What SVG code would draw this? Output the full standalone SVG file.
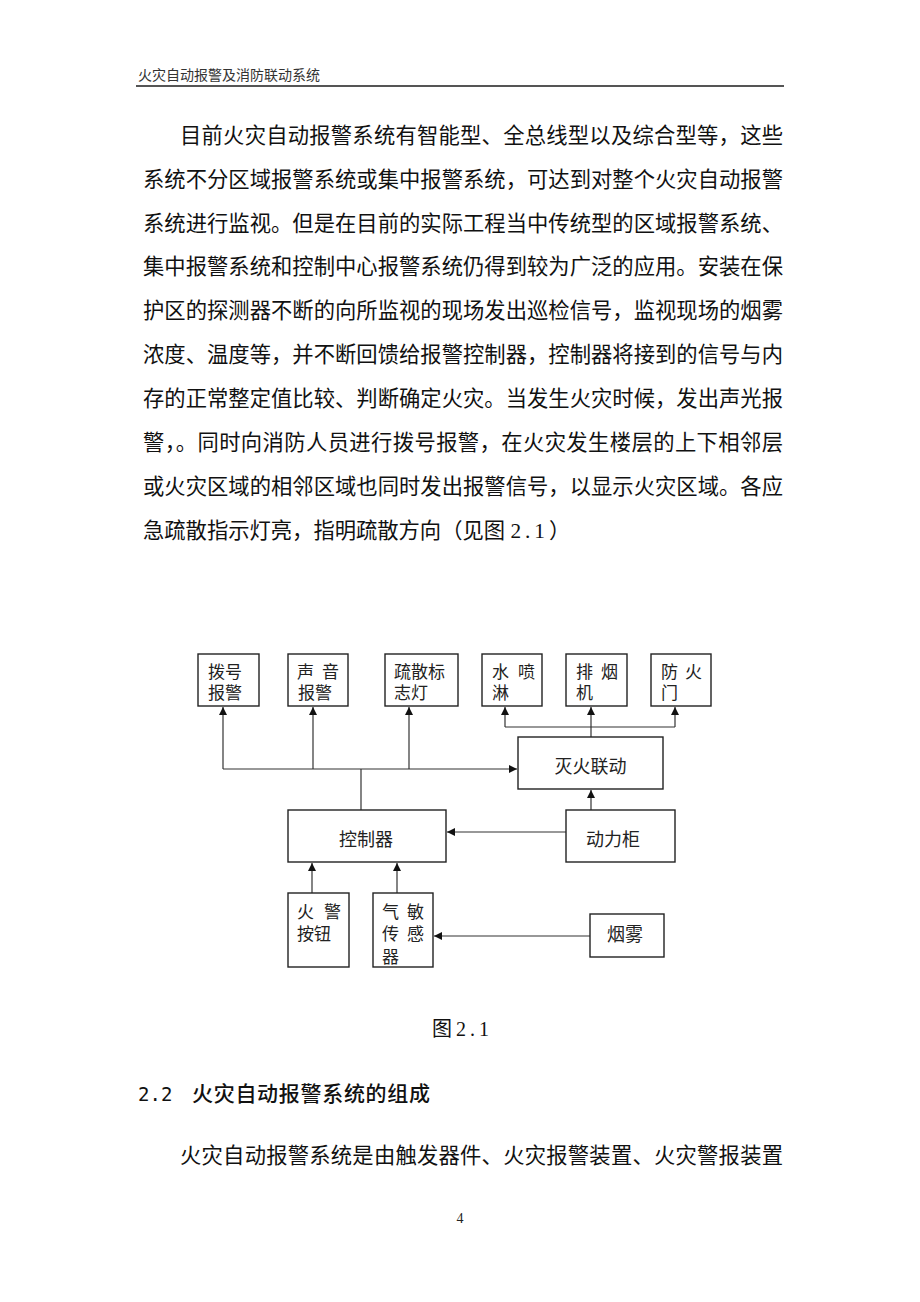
<svg xmlns="http://www.w3.org/2000/svg" width="920" height="1302" viewBox="0 0 920 1302">
<defs>
<style>
.body{font-family:"Liberation Serif","Noto Sans CJK SC",serif;font-size:21.3px;fill:#111}
.hdr{font-family:"Liberation Serif","Noto Sans CJK SC",serif;font-size:14px;fill:#333}
.box{fill:#fff;stroke:#222;stroke-width:1.4}
.lbl{font-family:"Liberation Sans","Noto Sans CJK SC",sans-serif;font-size:17px;fill:#222}
.lbl2{font-family:"Liberation Sans","Noto Sans CJK SC",sans-serif;font-size:18px;fill:#222}
.con{fill:none;stroke:#333;stroke-width:1.2}
</style>
<marker id="ah" viewBox="0 0 10 10" refX="10" refY="5" markerWidth="8" markerHeight="8" markerUnits="userSpaceOnUse" orient="auto">
<path d="M0,0 L10,5 L0,10 z" fill="#111"/>
</marker>
</defs>
<rect width="920" height="1302" fill="#fff"/>

<g id="header">
<text class="hdr" x="138" y="80">火灾自动报警及消防联动系统</text>
<line x1="136" y1="86" x2="784" y2="86" stroke="#555" stroke-width="2"/>
</g>

<g id="paragraph1">
<text class="body" x="180" y="143" textLength="603" lengthAdjust="spacing">目前火灾自动报警系统有智能型、全总线型以及综合型等，这些</text>
<text class="body" x="143" y="187" textLength="640" lengthAdjust="spacing">系统不分区域报警系统或集中报警系统，可达到对整个火灾自动报警</text>
<text class="body" x="143" y="231" textLength="640" lengthAdjust="spacing">系统进行监视。但是在目前的实际工程当中传统型的区域报警系统、</text>
<text class="body" x="143" y="274" textLength="640" lengthAdjust="spacing">集中报警系统和控制中心报警系统仍得到较为广泛的应用。安装在保</text>
<text class="body" x="143" y="318" textLength="640" lengthAdjust="spacing">护区的探测器不断的向所监视的现场发出巡检信号，监视现场的烟雾</text>
<text class="body" x="143" y="362" textLength="640" lengthAdjust="spacing">浓度、温度等，并不断回馈给报警控制器，控制器将接到的信号与内</text>
<text class="body" x="143" y="406" textLength="640" lengthAdjust="spacing">存的正常整定值比较、判断确定火灾。当发生火灾时候，发出声光报</text>
<text class="body" x="143" y="450" textLength="640" lengthAdjust="spacing">警，。同时向消防人员进行拨号报警，在火灾发生楼层的上下相邻层</text>
<text class="body" x="143" y="494" textLength="640" lengthAdjust="spacing">或火灾区域的相邻区域也同时发出报警信号，以显示火灾区域。各应</text>
<text class="body" x="143" y="538">急疏散指示灯亮，指明疏散方向（见图 <tspan letter-spacing="4">2.1</tspan>）</text>
</g>

<g id="connectors">
<line class="con" x1="223" y1="769" x2="223" y2="707" marker-end="url(#ah)"/>
<line class="con" x1="313" y1="769" x2="313" y2="707" marker-end="url(#ah)"/>
<line class="con" x1="409" y1="769" x2="409" y2="707" marker-end="url(#ah)"/>
<line class="con" x1="223" y1="769" x2="517" y2="769" marker-end="url(#ah)"/>
<line class="con" x1="361" y1="810" x2="361" y2="769"/>
<line class="con" x1="591" y1="737" x2="591" y2="707" marker-end="url(#ah)"/>
<line class="con" x1="505" y1="727" x2="675" y2="727"/>
<line class="con" x1="505" y1="727" x2="505" y2="707" marker-end="url(#ah)"/>
<line class="con" x1="675" y1="727" x2="675" y2="707" marker-end="url(#ah)"/>
<line class="con" x1="591" y1="810" x2="591" y2="790" marker-end="url(#ah)"/>
<line class="con" x1="566" y1="832" x2="447" y2="832" marker-end="url(#ah)"/>
<line class="con" x1="312" y1="893" x2="312" y2="863" marker-end="url(#ah)"/>
<line class="con" x1="397" y1="893" x2="397" y2="863" marker-end="url(#ah)"/>
<line class="con" x1="590" y1="936" x2="434" y2="936" marker-end="url(#ah)"/>
</g>

<g id="node-bohao">
<rect class="box" x="198" y="654" width="61" height="52"/>
<text class="lbl" x="208" y="678">拨号</text>
<text class="lbl" x="208" y="699">报警</text>
</g>
<g id="node-shengyin">
<rect class="box" x="288" y="654" width="60" height="52"/>
<text class="lbl" x="297" y="678">声</text>
<text class="lbl" x="322" y="678">音</text>
<text class="lbl" x="298" y="699">报警</text>
</g>
<g id="node-shusan">
<rect class="box" x="385" y="654" width="73" height="52"/>
<text class="lbl" x="394" y="678">疏散标</text>
<text class="lbl" x="394" y="699">志灯</text>
</g>
<g id="node-shuipenlin">
<rect class="box" x="482" y="654" width="60" height="52"/>
<text class="lbl" x="492" y="678">水</text>
<text class="lbl" x="518" y="678">喷</text>
<text class="lbl" x="492" y="699">淋</text>
</g>
<g id="node-paiyanji">
<rect class="box" x="566" y="654" width="61" height="52"/>
<text class="lbl" x="576" y="678">排</text>
<text class="lbl" x="601" y="678">烟</text>
<text class="lbl" x="576" y="699">机</text>
</g>
<g id="node-fanghuomen">
<rect class="box" x="651" y="654" width="60" height="52"/>
<text class="lbl" x="661" y="678">防</text>
<text class="lbl" x="685" y="678">火</text>
<text class="lbl" x="661" y="699">门</text>
</g>
<g id="node-miehuo">
<rect class="box" x="518" y="737" width="145" height="52"/>
<text class="lbl2" x="590.5" y="773" text-anchor="middle">灭火联动</text>
</g>
<g id="node-kongzhiqi">
<rect class="box" x="288" y="810" width="158" height="52"/>
<text class="lbl2" x="366" y="846" text-anchor="middle">控制器</text>
</g>
<g id="node-dongligui">
<rect class="box" x="566" y="810" width="109" height="52"/>
<text class="lbl2" x="613" y="846" text-anchor="middle">动力柜</text>
</g>
<g id="node-huojing">
<rect class="box" x="288" y="893" width="61" height="74"/>
<text class="lbl" x="297" y="918">火</text>
<text class="lbl" x="324" y="918">警</text>
<text class="lbl" x="297" y="940">按钮</text>
</g>
<g id="node-qimin">
<rect class="box" x="373" y="893" width="60" height="74"/>
<text class="lbl" x="382" y="918">气</text>
<text class="lbl" x="407" y="918">敏</text>
<text class="lbl" x="382" y="940">传</text>
<text class="lbl" x="407" y="940">感</text>
<text class="lbl" x="382" y="963">器</text>
</g>
<g id="node-yanwu">
<rect class="box" x="590" y="914" width="74" height="43"/>
<text class="lbl2" x="625" y="941" text-anchor="middle">烟雾</text>
</g>

<g id="caption">
<text class="body" x="432" y="1036" style="font-size:20px">图<tspan dx="4" letter-spacing="4">2.1</tspan></text>
</g>

<g id="section">
<text x="138" y="1101" style="font-family:'DejaVu Sans Mono','Liberation Mono',monospace;font-size:19px;fill:#111">2.2</text>
<text x="192" y="1101" textLength="238" lengthAdjust="spacing" style="font-family:'Noto Sans CJK SC',sans-serif;font-size:21px;font-weight:500;fill:#111">火灾自动报警系统的组成</text>
</g>

<g id="paragraph2">
<text class="body" x="180" y="1163" textLength="603" lengthAdjust="spacing">火灾自动报警系统是由触发器件、火灾报警装置、火灾警报装置</text>
</g>

<g id="footer">
<text x="460" y="1223" text-anchor="middle" style="font-family:'Liberation Serif',serif;font-size:14px;fill:#222">4</text>
</g>
</svg>
